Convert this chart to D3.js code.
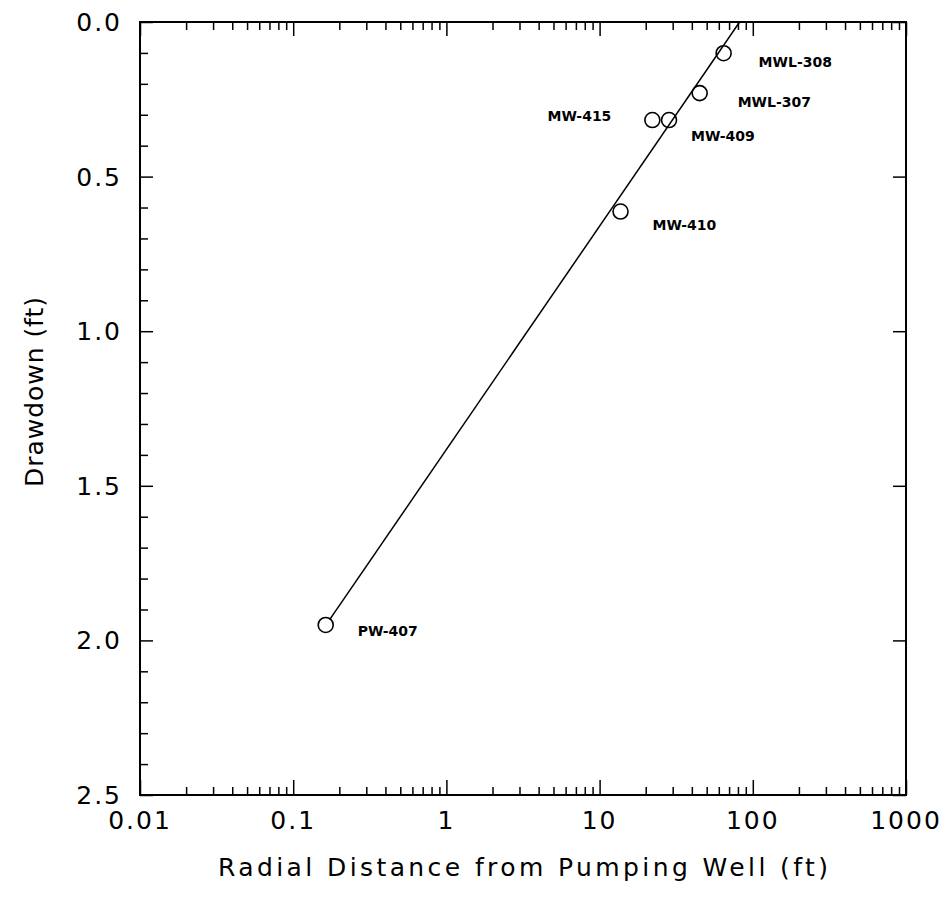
<!DOCTYPE html>
<html>
<head>
<meta charset="utf-8">
<script src="https://cdn.jsdelivr.net/npm/d3@7"></script>
<style>
  html, body { margin: 0; padding: 0; background: #fff; }
  svg { display: block; }
  text { font-family: "DejaVu Sans", sans-serif; fill: #000; }
</style>
</head>
<body>
<svg id="chart" width="948" height="910"></svg>
<script>
// ---- data ----
const wells = ["PW-407", "MW-410", "MW-415", "MW-409", "MWL-307", "MWL-308"];
const distance = [0.163, 13.7, 22.1, 28.4, 45, 64.5];     // ft
const drawdown = [1.95, 0.613, 0.317, 0.317, 0.23, 0.101]; // ft
const fitDistance = [0.173, 82];
const fitDrawdown = [1.933, 0];
const xTickValues = [0.01, 0.1, 1, 10, 100, 1000];
const xTickLabels = ["0.01", "0.1", "1", "10", "100", "1000"];
const yTickValues = [0, 0.5, 1, 1.5, 2, 2.5];
const yTickLabels = ["0.0", "0.5", "1.0", "1.5", "2.0", "2.5"];

// label layout (pixel offsets from the point)
const labelOffsets = [[32, 11], [32, 18], [-41, 1], [22, 21], [38, 14], [35, 14]];
const labelAnchors = ["start", "start", "end", "start", "start", "start"];

// ---- layout ----
const svg = d3.select("#chart");
const L = 140, R = 906, T = 22, B = 795;
const x = d3.scaleLog().domain([0.01, 1000]).range([L, R]);
const y = d3.scaleLinear().domain([0, 2.5]).range([T, B]);

// minor tick values
const xMinor = [];
for (let e = -2; e < 3; e++) for (let m = 2; m <= 9; m++) xMinor.push(m * Math.pow(10, e));
const yMinor = d3.range(0, 26).map(i => i / 10).filter(v => Math.round(v * 10) % 5 !== 0);

// bottom axis
const gB = svg.append("g").attr("transform", `translate(0,${B})`);
gB.call(d3.axisBottom(x).tickValues(xMinor).tickSize(-8).tickFormat(""));
gB.call(g => g.append("g").call(d3.axisBottom(x).tickValues(xTickValues).tickSize(-15).tickFormat("")));
// top axis
const gT = svg.append("g").attr("transform", `translate(0,${T})`);
gT.call(d3.axisTop(x).tickValues(xMinor).tickSize(-8).tickFormat(""));
gT.call(g => g.append("g").call(d3.axisTop(x).tickValues(xTickValues).tickSize(-14).tickFormat("")));
// left axis
const gL = svg.append("g").attr("transform", `translate(${L},0)`);
gL.call(d3.axisLeft(y).tickValues(yMinor).tickSize(-8).tickFormat(""));
gL.call(g => g.append("g").call(d3.axisLeft(y).tickValues(yTickValues).tickSize(-13).tickFormat("")));
// right axis
const gR = svg.append("g").attr("transform", `translate(${R},0)`);
gR.call(d3.axisRight(y).tickValues(yTickValues).tickSize(-13).tickFormat(""));

svg.selectAll(".domain").remove();
svg.selectAll(".tick line").attr("stroke", "#000").attr("stroke-width", 1.5);

// frame
svg.append("rect").attr("x", L).attr("y", T).attr("width", R - L).attr("height", B - T)
  .attr("fill", "none").attr("stroke", "#000").attr("stroke-width", 2);

// tick labels
svg.append("g").selectAll("text").data(xTickValues).join("text")
  .attr("x", d => x(d)).attr("y", 829)
  .attr("text-anchor", "middle")
  .style("font-size", "25px").style("letter-spacing", "2px")
  .text((d, i) => xTickLabels[i]);

svg.append("g").selectAll("text").data(yTickValues).join("text")
  .attr("x", 122).attr("y", d => y(d) + 9)
  .attr("text-anchor", "end")
  .style("font-size", "25px").style("letter-spacing", "2px")
  .text((d, i) => yTickLabels[i]);

// axis titles
svg.append("text").attr("x", (L + R) / 2).attr("y", 876)
  .attr("text-anchor", "middle").style("font-size", "25px")
  .attr("textLength", 610).attr("lengthAdjust", "spacing")
  .text("Radial Distance from Pumping Well (ft)");

svg.append("text").attr("transform", "translate(43,392) rotate(-90)")
  .attr("text-anchor", "middle").style("font-size", "25px")
  .attr("textLength", 190).attr("lengthAdjust", "spacing")
  .text("Drawdown (ft)");

// fit line
const line = d3.line().x(d => x(d[0])).y(d => y(d[1]));
svg.append("path").datum(fitDistance.map((d, i) => [d, fitDrawdown[i]]))
  .attr("d", line).attr("fill", "none").attr("stroke", "#000").attr("stroke-width", 1.5);

// points
svg.append("g").selectAll("circle").data(wells).join("circle")
  .attr("cx", (d, i) => x(distance[i])).attr("cy", (d, i) => y(drawdown[i]))
  .attr("r", 7.5).attr("fill", "none").attr("stroke", "#000").attr("stroke-width", 1.6);

// point labels
svg.append("g").selectAll("text").data(wells).join("text")
  .attr("x", (d, i) => x(distance[i]) + labelOffsets[i][0])
  .attr("y", (d, i) => y(drawdown[i]) + labelOffsets[i][1])
  .attr("text-anchor", (d, i) => labelAnchors[i])
  .style("font-size", "14px").style("font-weight", "bold")
  .text(d => d);
</script>
</body>
</html>
